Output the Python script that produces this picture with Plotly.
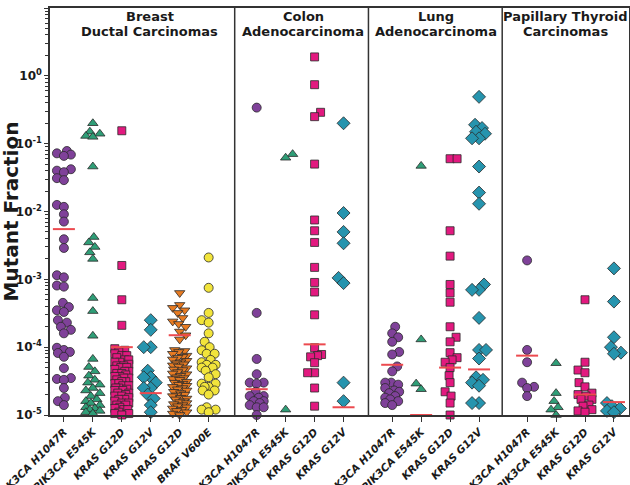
import math
import plotly.graph_objects as go

# ---------------- data ----------------
mutations_breast = ["PIK3CA H1047R", "PIK3CA E545K", "KRAS G12D", "KRAS G12V", "HRAS G12D", "BRAF V600E"]
mutations_other = ["PIK3CA H1047R", "PIK3CA E545K", "KRAS G12D", "KRAS G12V"]
panel_titles = [["Breast", "Ductal Carcinomas"], ["Colon", "Adenocarcinoma"], ["Lung", "Adenocarcinoma"],
                ["Papillary Thyroid", "Carcinomas"]]
y_title = "Mutant Fraction"

breast_pik3ca_h1047r = [0.078, 0.072, 0.069, 0.066, 0.042, 0.040, 0.038, 0.031, 0.029, 0.0125, 0.0117, 0.0091,
                        0.0071, 0.0039, 0.0029, 0.00115, 0.00107, 0.00081, 0.00078, 4.5e-4, 3.9e-4, 3.5e-4, 3.3e-4,
                        2.5e-4, 2.3e-4, 2.0e-4, 1.8e-4, 1.6e-4, 9.8e-5, 9.1e-5, 8.5e-5, 8.2e-5, 7.2e-5, 4.9e-5,
                        3.5e-5, 3.4e-5, 3.3e-5, 2.5e-5, 1.8e-5, 1.6e-5, 1.4e-5]
breast_pik3ca_e545k = [0.20, 0.15, 0.14, 0.13, 0.126, 0.046, 0.0042, 0.0035, 0.0030, 0.0025, 0.0020, 5.3e-4, 3.4e-4,
                       1.47e-4, 6.7e-5, 5.1e-5, 4.4e-5, 3.8e-5, 3.3e-5, 3.0e-5, 2.8e-5, 2.5e-5, 2.3e-5, 2.1e-5,
                       1.9e-5, 1.7e-5, 1.6e-5, 1.5e-5, 1.4e-5, 1.3e-5, 1.25e-5, 1.2e-5, 1.15e-5, 1.1e-5, 1.05e-5]
breast_kras_g12d = [0.155, 0.0016, 5.0e-4, 2.1e-4, 9.5e-5, 9.0e-5, 8.5e-5, 8.0e-5, 7.5e-5, 7.5e-5, 7.0e-5, 6.5e-5,
                    6.5e-5, 6.0e-5, 6.0e-5, 5.6e-5, 5.3e-5, 5.3e-5, 5.0e-5, 5.0e-5, 4.7e-5, 4.4e-5, 4.4e-5, 4.1e-5,
                    4.1e-5, 3.9e-5, 3.7e-5, 3.7e-5, 3.5e-5, 3.5e-5, 3.3e-5, 3.1e-5, 3.1e-5, 2.9e-5, 2.9e-5, 2.7e-5,
                    2.7e-5, 2.5e-5, 2.5e-5, 2.4e-5, 2.3e-5, 2.3e-5, 2.1e-5, 2.1e-5, 2.0e-5, 1.9e-5, 1.9e-5, 1.8e-5,
                    1.7e-5, 1.7e-5, 1.6e-5, 1.5e-5, 1.5e-5, 1.4e-5, 1.4e-5, 1.3e-5, 1.25e-5, 1.2e-5, 1.2e-5,
                    1.1e-5, 1.05e-5, 1.05e-5, 1.0e-5]
breast_kras_g12v = [2.5e-4, 1.8e-4, 1.0e-4, 1.0e-4, 4.5e-5, 3.6e-5, 3.6e-5, 3.0e-5, 2.5e-5, 2.5e-5, 2.0e-5,
                    1.75e-5, 1.4e-5, 1.1e-5]
breast_hras_g12d = [6.3e-4, 4.2e-4, 3.8e-4, 3.5e-4, 3.2e-4, 2.7e-4, 2.4e-4, 2.2e-4, 2.0e-4, 1.7e-4, 1.5e-4, 1.3e-4,
                    9.1e-5, 8.8e-5, 8.5e-5, 8.0e-5, 7.5e-5, 7.2e-5, 7.0e-5, 6.6e-5, 6.3e-5, 6.0e-5, 5.8e-5, 5.6e-5,
                    5.4e-5, 5.2e-5, 4.9e-5, 4.7e-5, 4.6e-5, 4.3e-5, 4.1e-5, 4.0e-5, 3.8e-5, 3.6e-5, 3.5e-5, 3.4e-5,
                    3.3e-5, 3.1e-5, 3.0e-5, 2.9e-5, 2.8e-5, 2.7e-5, 2.6e-5, 2.5e-5, 2.4e-5, 2.3e-5, 2.2e-5, 2.1e-5,
                    2.0e-5, 1.95e-5, 1.9e-5, 1.8e-5, 1.75e-5, 1.7e-5, 1.6e-5, 1.55e-5, 1.5e-5, 1.45e-5, 1.4e-5,
                    1.35e-5, 1.3e-5, 1.25e-5, 1.2e-5, 1.15e-5, 1.1e-5, 1.05e-5, 1.0e-5]
breast_braf_v600e = [2.1e-3, 7.5e-4, 3.2e-4, 2.5e-4, 2.3e-4, 1.6e-4, 1.2e-4, 1.0e-4, 9.0e-5, 8.0e-5, 8.0e-5,
                     6.5e-5, 6.0e-5, 5.5e-5, 5.5e-5, 5.0e-5, 5.0e-5, 4.5e-5, 4.0e-5, 3.6e-5, 2.9e-5, 2.9e-5,
                     2.6e-5, 2.6e-5, 2.3e-5, 2.3e-5, 2.0e-5, 1.3e-5, 1.2e-5, 1.2e-5, 1.1e-5]

colon_pik3ca_h1047r = [0.34, 3.2e-4, 6.7e-5, 4.0e-5, 3.0e-5, 3.0e-5, 2.9e-5, 2.2e-5, 1.9e-5, 1.9e-5, 1.8e-5,
                       1.6e-5, 1.6e-5, 1.5e-5, 1.4e-5, 1.3e-5, 1.3e-5, 1.0e-5]
colon_pik3ca_e545k = [0.070, 0.062, 1.2e-5]
colon_kras_g12d = [1.9, 0.74, 0.29, 0.25, 0.050, 7.5e-3, 5.2e-3, 3.5e-3, 1.5e-3, 9.0e-4, 6.5e-4, 3.0e-4, 9.8e-5,
                   7.8e-5, 7.5e-5, 7.2e-5, 5.9e-5, 4.2e-5, 4.2e-5, 2.5e-5, 1.35e-5]
colon_kras_g12v = [0.20, 9.5e-3, 5.0e-3, 3.4e-3, 1.05e-3, 8.8e-4, 3.0e-5, 1.6e-5]

lung_pik3ca_h1047r = [2.0e-4, 1.6e-4, 1.4e-4, 1.2e-4, 8.5e-5, 7.8e-5, 5.2e-5, 4.4e-5, 3.0e-5, 3.0e-5, 2.8e-5,
                      2.5e-5, 2.3e-5, 2.2e-5, 2.1e-5, 1.9e-5, 1.8e-5, 1.7e-5, 1.6e-5, 1.5e-5, 1.4e-5]
lung_pik3ca_e545k = [0.047, 1.3e-4, 2.9e-5, 2.4e-5]
lung_kras_g12d = [0.060, 0.060, 5.2e-3, 2.2e-3, 8.4e-4, 6.3e-4, 4.6e-4, 2.0e-4, 1.4e-4, 1.2e-4, 8.3e-5, 7.0e-5,
                  6.5e-5, 6.0e-5, 5.0e-5, 3.8e-5, 3.0e-5, 2.2e-5, 1.9e-5, 1.5e-5, 1.0e-5]
lung_kras_g12v = [0.49, 0.19, 0.17, 0.15, 0.14, 0.12, 0.12, 0.046, 0.019, 0.013, 8.4e-4, 7.0e-4, 7.0e-4, 2.7e-4,
                  9.1e-5, 9.1e-5, 6.8e-5, 3.6e-5, 3.3e-5, 3.0e-5, 2.7e-5, 1.5e-5, 1.5e-5]

thyroid_pik3ca_h1047r = [1.9e-3, 9.1e-5, 6.0e-5, 3.0e-5, 2.6e-5, 2.5e-5, 1.9e-5]
thyroid_pik3ca_e545k = [5.8e-5, 2.1e-5, 1.6e-5, 1.3e-5, 1.2e-5, 1.0e-5]
thyroid_kras_g12d = [5.0e-4, 6.0e-5, 4.6e-5, 4.2e-5, 3.0e-5, 2.6e-5, 2.1e-5, 2.0e-5, 1.9e-5, 1.7e-5, 1.7e-5,
                     1.4e-5, 1.35e-5, 1.2e-5, 1.15e-5, 1.1e-5]
thyroid_kras_g12v = [1.45e-3, 4.7e-4, 1.4e-4, 1.0e-4, 8.3e-5, 8.0e-5, 1.5e-5, 1.35e-5, 1.25e-5, 1.15e-5, 1.1e-5]

# red bars (None = not visible)
median_breast = [5.5e-3, None, 1.0e-4, 2.1e-5, 1.5e-4, None]
median_colon = [2.4e-5, None, 1.1e-4, 1.3e-5]
median_lung = [5.5e-5, 1.0e-5, 5.0e-5, 4.7e-5]
median_thyroid = [7.5e-5, None, 2.0e-5, 1.55e-5]

# ---------------- layout helpers ----------------
panel_starts = [0.0, 6.66, 11.34, 16.0]
dividers = [5.9, 10.52, 15.14]
panel_centers = [2.97, 8.26, 12.85, 17.34]
PX_X = 29.0
PX_DEC = 67.8
FONT = "DejaVu Sans, Liberation Sans, Arial, sans-serif"

styles = {
    "PIK3CA H1047R": dict(symbol="circle", color="#7f4199", size=9),
    "PIK3CA E545K": dict(symbol="triangle-up", color="#2f9e77", size=9),
    "KRAS G12D": dict(symbol="square", color="#e2197f", size=8),
    "KRAS G12V": dict(symbol="diamond", color="#2694ae", size=10),
    "HRAS G12D": dict(symbol="triangle-down", color="#e77b22", size=9),
    "BRAF V600E": dict(symbol="circle", color="#f2e43b", size=9),
}

groups = [
    (mutations_breast, [breast_pik3ca_h1047r, breast_pik3ca_e545k, breast_kras_g12d, breast_kras_g12v,
                        breast_hras_g12d, breast_braf_v600e], median_breast),
    (mutations_other, [colon_pik3ca_h1047r, colon_pik3ca_e545k, colon_kras_g12d, colon_kras_g12v], median_colon),
    (mutations_other, [lung_pik3ca_h1047r, lung_pik3ca_e545k, lung_kras_g12d, lung_kras_g12v], median_lung),
    (mutations_other, [thyroid_pik3ca_h1047r, thyroid_pik3ca_e545k, thyroid_kras_g12d, thyroid_kras_g12v],
     median_thyroid),
]


def swarm(vals, diam=7.0, maxoff=7):
    ys = [math.log10(v) * PX_DEC for v in vals]
    order = sorted(range(len(vals)), key=lambda i: ys[i])
    placed = []
    offs = [0.0] * len(vals)
    for n, i in enumerate(order):
        y = ys[i]
        best = None
        for k in range(0, maxoff + 1):
            cands = [0] if k == 0 else ([k, -k] if n % 2 == 0 else [-k, k])
            for s in cands:
                if all((s - px) ** 2 + (y - py) ** 2 >= diam ** 2 for px, py in placed):
                    best = s
                    break
            if best is not None:
                break
        if best is None:
            bestd = -1
            for s in range(-maxoff, maxoff + 1):
                d = min([(s - px) ** 2 + (y - py) ** 2 for px, py in placed] or [1e9])
                if d > bestd:
                    bestd, best = d, s
        placed.append((best, y))
        offs[i] = best / PX_X
    return offs


fig = go.Figure()
tickvals, ticktext = [], []
med_x, med_y = [], []
for p, (muts, series, meds) in enumerate(groups):
    for j, (m, vals) in enumerate(zip(muts, series)):
        pos = panel_starts[p] + j
        tickvals.append(pos)
        ticktext.append("<b><i>%s</i></b>" % m)
        offs = swarm(vals)
        st = styles[m]
        fig.add_trace(go.Scatter(
            x=[pos + o for o in offs], y=vals, mode="markers", cliponaxis=False,
            marker=dict(symbol=st["symbol"], color=st["color"], size=st["size"],
                        line=dict(color="#2a2a2a", width=0.8)),
            showlegend=False, hoverinfo="y"))
        if meds[j] is not None:
            med_x += [pos - 0.38, pos + 0.38, None]
            med_y += [meds[j], meds[j], None]

fig.add_trace(go.Scatter(x=med_x, y=med_y, mode="lines", line=dict(color="#ec4a4f", width=2),
                         showlegend=False, hoverinfo="skip", cliponaxis=False))

for d in dividers:
    fig.add_shape(type="line", xref="x", yref="paper", x0=d, x1=d, y0=0, y1=1,
                  line=dict(color="#333333", width=1.5))

for c, (l1, l2) in zip(panel_centers, panel_titles):
    fig.add_annotation(x=c, y=0.978, xref="x", yref="paper", yanchor="middle", showarrow=False,
                       text="<b>%s</b>" % l1, font=dict(size=13, color="#1a1a1a"))
    fig.add_annotation(x=c, y=0.943, xref="x", yref="paper", yanchor="middle", showarrow=False,
                       text="<b>%s</b>" % l2, font=dict(size=13, color="#1a1a1a"))

fig.add_annotation(x=0, xshift=-40, y=0.5, xref="paper", yref="paper", xanchor="center", yanchor="middle",
                   showarrow=False, textangle=-90,
                   text="<b>%s</b>" % y_title, font=dict(size=20, color="#1a1a1a"))

ytv = [10.0 ** e for e in range(-5, 2)]
ytt = ["<b>10<sup>%d</sup></b>" % e for e in range(-5, 2)]

fig.update_layout(
    width=630, height=485,
    margin=dict(l=50, r=1, t=8, b=70),
    paper_bgcolor="white", plot_bgcolor="white",
    font=dict(family=FONT, color="#1a1a1a"),
    xaxis=dict(range=[-0.48, 19.52], tickmode="array", tickvals=tickvals, ticktext=ticktext,
               tickangle=-45, tickfont=dict(size=10.5), ticks="outside", ticklen=5, tickcolor="#333",
               showline=True, linecolor="#333", linewidth=1.5, mirror=True, showgrid=False,
               zeroline=False, automargin=False, ticklabeloverflow="allow"),
    yaxis=dict(type="log", range=[-5, 1], tickmode="array", tickvals=ytv, ticktext=ytt,
               tickfont=dict(size=12), ticks="outside", ticklen=4, tickcolor="#333",
               minor=dict(ticks="outside", ticklen=3, tickcolor="#333", dtick="D1", showgrid=False),
               showline=True, linecolor="#333", linewidth=1.5, mirror=True, showgrid=False,
               automargin=False),
)

fig.write_html("out.html", config={"displayModeBar": False},
               post_script="document.body.style.margin='0px';")
